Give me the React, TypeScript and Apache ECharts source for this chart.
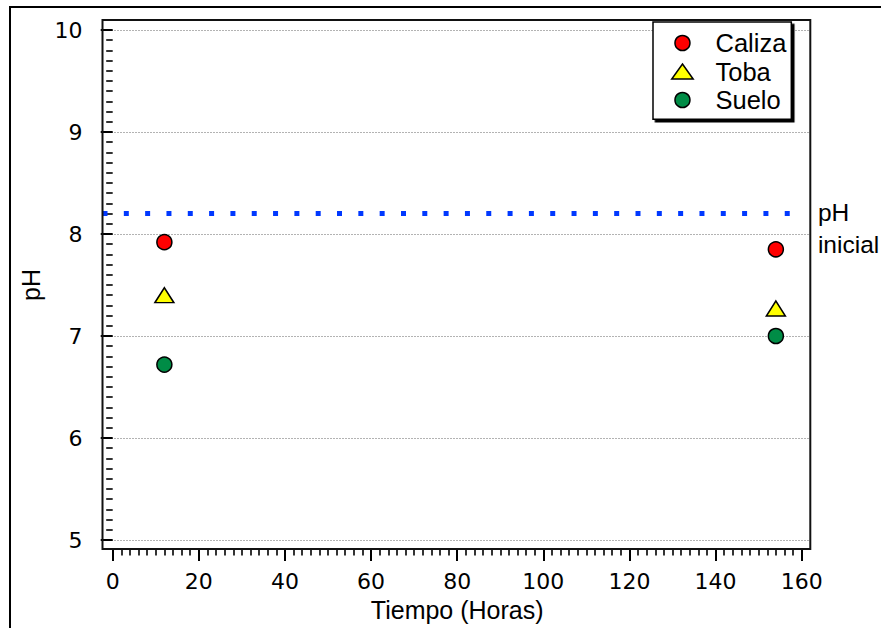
import React, { useEffect, useRef } from "react";
import * as echarts from "echarts";

// ---- data ----
const seriesNames = ["Caliza", "Toba", "Suelo"];
const timeHours = [12, 154];
const calizaPH = [7.92, 7.85];
const tobaPH = [7.4, 7.27];
const sueloPH = [6.72, 7.0];
const initialPH = 8.2;
const initialLineX = [-2.37, 157.5];
const initialLabel = "pH\ninicial";
const xTickRange = [0, 160, 20];
const yTickRange = [5, 10, 1];
const xTitle = "Tiempo (Horas)";
const yTitle = "pH";

const TRI = "path://M10,0L20,14L0,14Z";

export default function App() {
  const ref = useRef<HTMLDivElement>(null);
  useEffect(() => {
    if (!ref.current) return;
    const chart = echarts.init(ref.current, null, { renderer: "svg" });
    const tickFont = { fontFamily: "DejaVu Sans", fontSize: 22, color: "#000" };
    const helv = "Liberation Sans";
    const mk = (ys: number[]) => timeHours.map((x, i) => [x, ys[i]]);
    chart.setOption({
      animation: false,
      backgroundColor: "#fff",
      graphic: [
        {
          type: "polyline",
          shape: { points: [[10, 640], [10, 7], [900, 7]] },
          style: { stroke: "#000", lineWidth: 2, fill: null },
          z: 10,
        },
      ],
      grid: [
        { left: 102.5, right: 70.7, top: 20, bottom: 79, show: true, borderColor: "#111", borderWidth: 2, backgroundColor: "transparent", z: 3 },
        { left: 102.5, right: 70.7, top: 30, bottom: 88 },
        { left: 112.7, right: 79.3, top: 30, bottom: 88 },
      ],
      xAxis: [
        { gridIndex: 0, type: "value", min: 0, max: 1, show: false },
        { gridIndex: 1, type: "value", min: initialLineX[0], max: 162, show: false },
        {
          gridIndex: 2,
          type: "value",
          min: xTickRange[0],
          max: xTickRange[1],
          interval: xTickRange[2],
          offset: 9,
          axisLine: { show: false },
          axisTick: { show: true, length: 12, lineStyle: { color: "#000", width: 2 } },
          minorTick: { show: true, splitNumber: 10, length: 6.5, lineStyle: { color: "#000", width: 1.6 } },
          splitLine: { show: false },
          axisLabel: { ...tickFont, margin: 21 },
          name: xTitle,
          nameLocation: "middle",
          nameGap: 48,
          nameTextStyle: { fontFamily: helv, fontSize: 25, color: "#000" },
        },
      ],
      yAxis: [
        { gridIndex: 0, type: "value", min: 0, max: 1, show: false },
        {
          gridIndex: 1,
          type: "value",
          min: yTickRange[0],
          max: yTickRange[1],
          interval: yTickRange[2],
          axisLine: { show: false },
          axisTick: { show: false },
          axisLabel: { show: false },
          splitLine: { show: true, lineStyle: { color: "#666", width: 1, type: [1, 2] } },
        },
        {
          gridIndex: 2,
          type: "value",
          min: yTickRange[0],
          max: yTickRange[1],
          interval: yTickRange[2],
          offset: 10.2,
          axisLine: { show: false },
          axisTick: { show: true, length: 12, lineStyle: { color: "#000", width: 2 } },
          minorTick: { show: true, splitNumber: 10, length: 6.5, lineStyle: { color: "#000", width: 1.6 } },
          splitLine: { show: false },
          axisLabel: { ...tickFont, margin: 20 },
          name: yTitle,
          nameLocation: "middle",
          nameGap: 55,
          nameTextStyle: { fontFamily: helv, fontSize: 25, color: "#000" },
        },
      ],
      legend: {
        data: [
          { name: seriesNames[0], icon: "circle" },
          { name: seriesNames[1], icon: TRI },
          { name: seriesNames[2], icon: "circle" },
        ],
        orient: "vertical",
        left: 653,
        top: 22,
        padding: [6.75, 5, 5, 18],
        itemGap: 0,
        itemWidth: 56,
        itemHeight: 15,
        itemStyle: { borderColor: "#000", borderWidth: 1.5 },
        textStyle: { fontFamily: helv, fontSize: 25.5, color: "#000", lineHeight: 28.5 },
        backgroundColor: "#fff",
        borderColor: "#000",
        borderWidth: 1.5,
        borderRadius: 0,
        shadowColor: "#000",
        shadowBlur: 0,
        shadowOffsetX: 2.5,
        shadowOffsetY: 2.5,
        selectedMode: false,
      },
      series: [
        {
          type: "line",
          xAxisIndex: 1,
          yAxisIndex: 1,
          data: initialLineX.map((x) => [x, initialPH]),
          showSymbol: false,
          symbol: "none",
          lineStyle: { color: "#0038ff", width: 5, type: [5, 16.32], cap: "butt" },
          endLabel: {
            show: true,
            formatter: initialLabel,
            distance: 27,
            offset: [0, 15],
            fontFamily: helv,
            fontSize: 24.5,
            lineHeight: 32,
            color: "#000",
            align: "left",
          },
          silent: true,
          z: 2,
        },
        {
          name: seriesNames[0],
          type: "scatter",
          xAxisIndex: 2,
          yAxisIndex: 2,
          data: mk(calizaPH),
          symbol: "circle",
          symbolSize: 15,
          itemStyle: { color: "#ff0000", borderColor: "#000", borderWidth: 1.5, opacity: 1 },
          z: 5,
        },
        {
          name: seriesNames[1],
          type: "scatter",
          xAxisIndex: 2,
          yAxisIndex: 2,
          data: mk(tobaPH),
          symbol: TRI,
          symbolSize: [19, 15],
          itemStyle: { color: "#ffff00", borderColor: "#000", borderWidth: 1.5, opacity: 1 },
          z: 5,
        },
        {
          name: seriesNames[2],
          type: "scatter",
          xAxisIndex: 2,
          yAxisIndex: 2,
          data: mk(sueloPH),
          symbol: "circle",
          symbolSize: 15,
          itemStyle: { color: "#008c46", borderColor: "#000", borderWidth: 1.5, opacity: 1 },
          z: 5,
        },
      ],
    });
    return () => chart.dispose();
  }, []);
  return (
    <div
      ref={ref}
      style={{ position: "fixed", left: 0, top: 0, width: 881, height: 628, overflow: "hidden" }}
    />
  );
}
